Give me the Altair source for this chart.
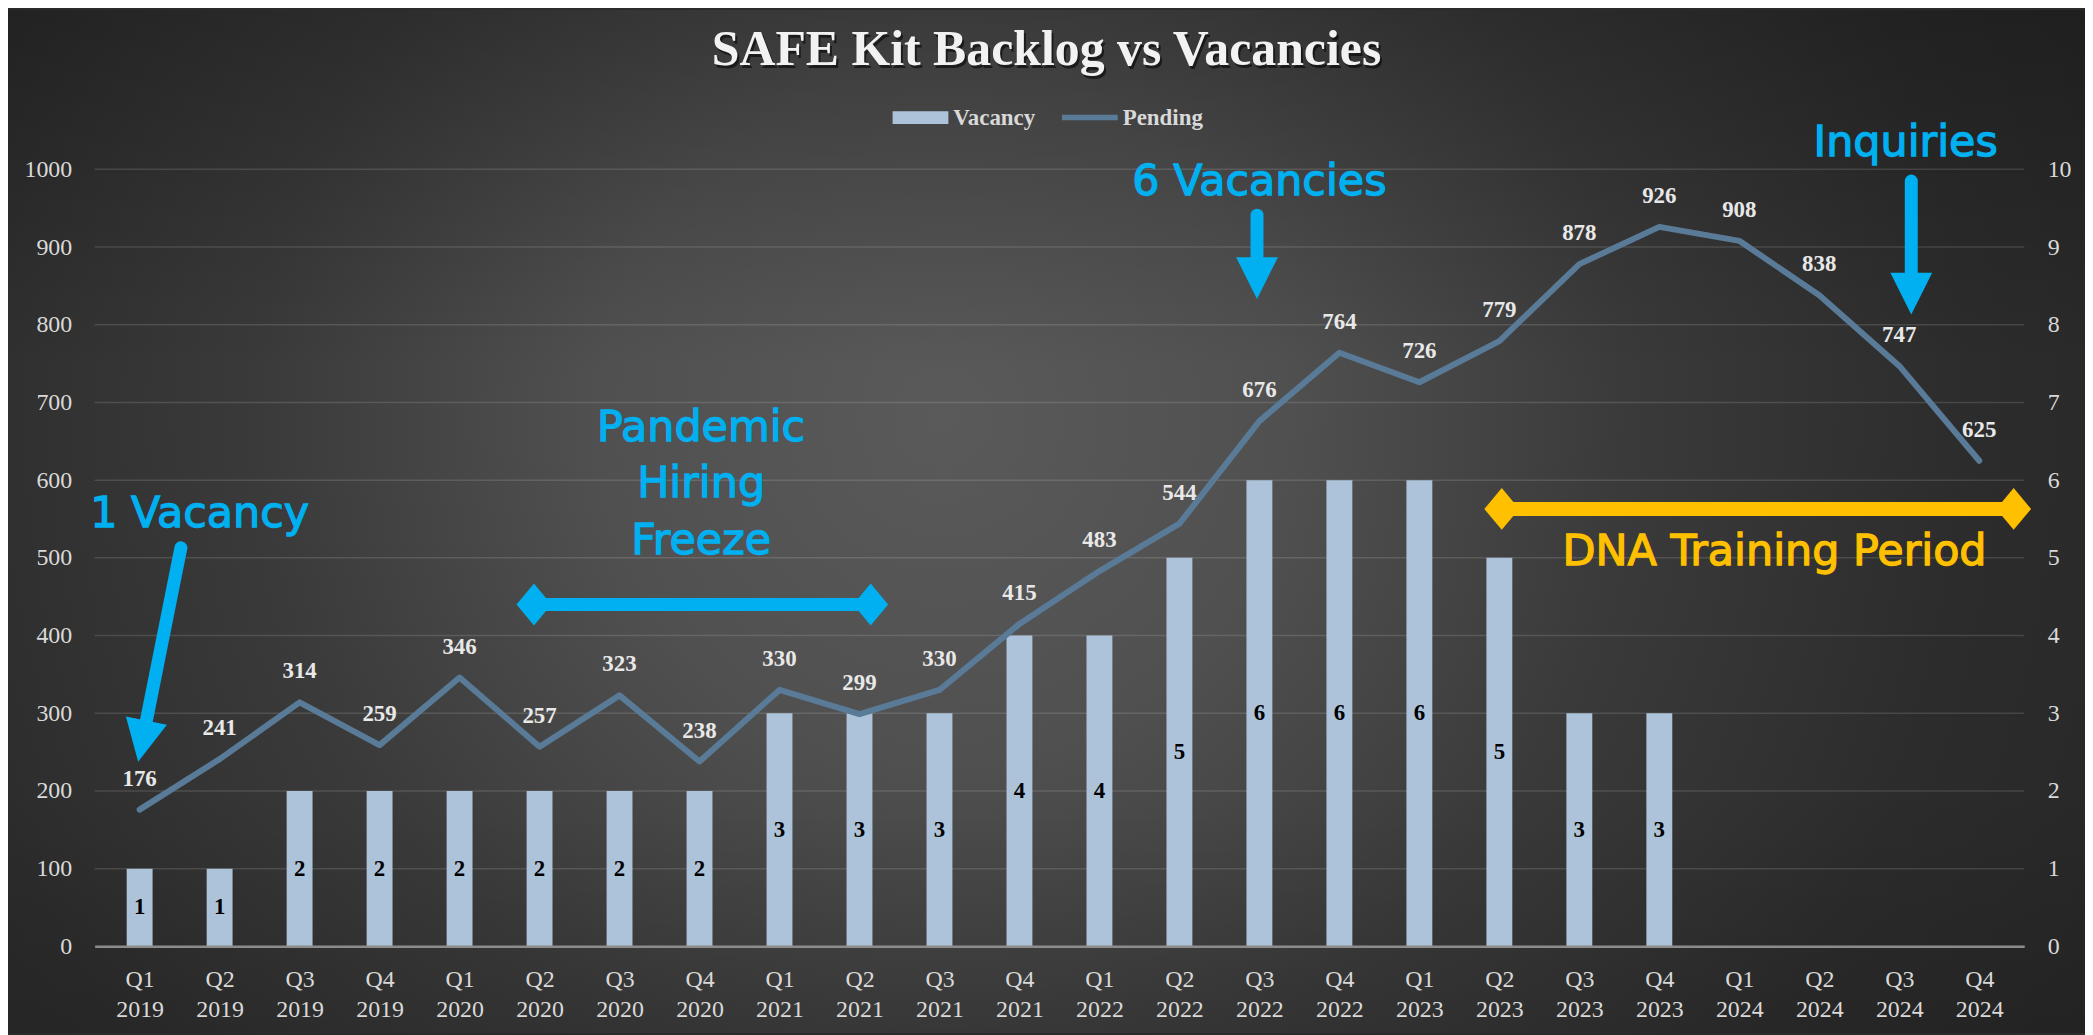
import json
import altair as alt
import pandas as pd

# ---------------- data ----------------
quarters = ["Q1 2019", "Q2 2019", "Q3 2019", "Q4 2019",
            "Q1 2020", "Q2 2020", "Q3 2020", "Q4 2020",
            "Q1 2021", "Q2 2021", "Q3 2021", "Q4 2021",
            "Q1 2022", "Q2 2022", "Q3 2022", "Q4 2022",
            "Q1 2023", "Q2 2023", "Q3 2023", "Q4 2023",
            "Q1 2024", "Q2 2024", "Q3 2024", "Q4 2024"]
pending = [176, 241, 314, 259, 346, 257, 323, 238, 330, 299, 330, 415,
           483, 544, 676, 764, 726, 779, 878, 926, 908, 838, 747, 625]
vacancy = [1, 1, 2, 2, 2, 2, 2, 2, 3, 3, 3, 4,
           4, 5, 6, 6, 6, 5, 3, 3, None, None, None, None]
left_ticks = [0, 100, 200, 300, 400, 500, 600, 700, 800, 900, 1000]
right_ticks = [0, 1, 2, 3, 4, 5, 6, 7, 8, 9, 10]
series_names = ["Vacancy", "Pending"]
title_text = "SAFE Kit Backlog vs Vacancies"

# annotations (anchored in quarter-index / pending units)
cyan_text = ["1 Vacancy", "Pandemic\nHiring\nFreeze", "6 Vacancies", "Inquiries"]
cyan_text_x = [0.75, 7.02, 14.0, 22.08]
cyan_text_y = [540, 651, 967, 1017]
gold_text = ["DNA Training Period"]
gold_text_x = [20.44]
gold_text_y = [491]

arrow_x1 = [0.516, 13.97, 22.15]
arrow_y1 = [513, 941, 985]
arrow_x2 = [0.033, 13.97, 22.15]
arrow_y2 = [264, 860, 840]
arrow_angle = [11.4, 0, 0]

span_cyan_x = [4.93]
span_cyan_x2 = [9.14]
span_cyan_y = [440]
span_gold_x = [17.03]
span_gold_x2 = [23.43]
span_gold_y = [563]

# ---------------- styles ----------------
W, H = 1937, 780
PAD = {"left": 87, "top": 160, "right": 61, "bottom": 87}
SERIF = "Liberation Serif"
SANS = "DejaVu Sans"
LABEL = "#d9d9d9"
BAR = "#adc3d9"
LINE = "#5a7b98"
CYAN = "#00b0f0"
GOLD = "#ffc000"

df = pd.DataFrame({"i": list(range(len(quarters))), "quarter": quarters,
                   "pending": pending, "vacancy": vacancy})
bars_df = df.dropna(subset=["vacancy"]).copy()
bars_df["vacancy"] = bars_df["vacancy"].astype(int)

x_scale = alt.Scale(domain=[-0.5, len(quarters) - 0.5], nice=False, zero=False)
left_scale = alt.Scale(domain=[0, 1000], nice=False)
right_scale = alt.Scale(domain=[0, 10], nice=False)

label_expr = "split(" + json.dumps(quarters) + "[datum.value], ' ')"
x_axis = alt.Axis(values=list(range(len(quarters))), labelExpr=label_expr, title=None,
                  labelFont=SERIF, labelFontSize=24, labelColor=LABEL, labelLineHeight=30,
                  labelPadding=21, labelAngle=0, ticks=False, tickSize=0, grid=False,
                  domain=True, domainColor="#8c8c8c", domainWidth=2.5,
                  labelFlush=False, labelOverlap=False, zindex=1)
left_axis = alt.Axis(orient="left", values=left_ticks, format="d", title=None, grid=False,
                     domain=False, ticks=False, tickSize=0, labelPadding=23, labelFont=SERIF,
                     labelFontSize=24, labelColor=LABEL, labelFlush=False,
                     labelOverlap=False, zindex=1)
right_axis = alt.Axis(orient="right", values=right_ticks, format="d", title=None, grid=False,
                      domain=False, ticks=False, tickSize=0, labelPadding=23, labelFont=SERIF,
                      labelFontSize=24, labelColor=LABEL, labelFlush=False,
                      labelOverlap=False, zindex=1)

X = lambda f: alt.X(f, type="quantitative", scale=x_scale, axis=x_axis)
YL = lambda f: alt.Y(f, type="quantitative", scale=left_scale, axis=left_axis)
YR = lambda f: alt.Y(f, type="quantitative", scale=right_scale, axis=right_axis)

one = pd.DataFrame({"k": [0]})
full = dict(x=alt.value(-PAD["left"]), x2=alt.value(W + PAD["right"]),
            y=alt.value(-PAD["top"]), y2=alt.value(H + PAD["bottom"]))

# background: radial glow plus a soft vertical darkening
bg = alt.Chart(one).mark_rect(
    fill={"gradient": "radial", "x1": 0.45, "y1": 0.45, "r1": 0,
          "x2": 0.45, "y2": 0.45, "r2": 0.66,
          "stops": [{"offset": 0, "color": "#5a5a5a"},
                    {"offset": 0.25, "color": "#505050"},
                    {"offset": 0.5, "color": "#3a3a3a"},
                    {"offset": 0.75, "color": "#2c2c2c"},
                    {"offset": 1, "color": "#262626"}]},
    strokeWidth=0,
).encode(**full)
bg_shade = alt.Chart(one).mark_rect(
    fill={"gradient": "linear", "x1": 0, "y1": 0, "x2": 0, "y2": 1,
          "stops": [{"offset": 0, "color": "rgba(0,0,0,0.24)"},
                    {"offset": 0.35, "color": "rgba(0,0,0,0)"},
                    {"offset": 0.75, "color": "rgba(0,0,0,0)"},
                    {"offset": 1, "color": "rgba(0,0,0,0.12)"}]},
    strokeWidth=0,
).encode(**full)

grid = alt.Chart(pd.DataFrame({"v": left_ticks[1:]})).mark_rule(
    color="#ffffff", opacity=0.13, strokeWidth=1.5
).encode(y=alt.Y("v:Q", scale=left_scale, axis=None), x=alt.value(0), x2=alt.value(W))

title_df = pd.DataFrame({"t": [title_text]})
title_style = dict(font=SERIF, fontSize=50, fontWeight="bold", align="center",
                   baseline="alphabetic")
title_shadow = alt.Chart(title_df).mark_text(color="#000000", opacity=0.55, dx=2, dy=3,
                                             **title_style).encode(
    x=alt.value(W / 2 - 13), y=alt.value(-105), text="t:N")
title_main = alt.Chart(title_df).mark_text(color="#f2f2f2", **title_style).encode(
    x=alt.value(W / 2 - 13), y=alt.value(-105), text="t:N")

legend = alt.Legend(
    orient="none", direction="horizontal", legendX=801, legendY=-80, title=None,
    labelFont=SERIF, labelFontSize=23, labelFontWeight="bold", labelColor=LABEL,
    symbolSize=3136, symbolStrokeWidth=0, labelOffset=5, columnPadding=26,
    symbolType=alt.ExprRef(expr="datum.value === 'Vacancy' ? 'M-1,-0.23H1V0.23H-1Z' : 'M-1,-0.1H1V0.1H-1Z'"),
)

bars = alt.Chart(bars_df).transform_calculate(series="'Vacancy'").mark_bar(size=26).encode(
    x=X("i"), y=YR("vacancy"),
    color=alt.Color("series:N", scale=alt.Scale(domain=series_names, range=[BAR, LINE]),
                    legend=legend),
)
bar_labels = alt.Chart(bars_df).transform_calculate(mid="datum.vacancy / 2").mark_text(
    font=SERIF, fontSize=23, fontWeight="bold", color="#000000", baseline="middle"
).encode(x=X("i"), y=YR("mid"), text=alt.Text("vacancy:Q", format="d"))

line = alt.Chart(df).mark_line(color=LINE, strokeWidth=6, strokeCap="round",
                               strokeJoin="round").encode(x=X("i"), y=YL("pending"))
line_labels = alt.Chart(df).mark_text(
    font=SERIF, fontSize=23, fontWeight="bold", color="#e8e8e8", baseline="alphabetic", dy=-24
).encode(x=X("i"), y=YL("pending"), text="pending:Q")

cyan_df = pd.DataFrame({"x": cyan_text_x, "y": cyan_text_y, "t": cyan_text})
gold_df = pd.DataFrame({"x": gold_text_x, "y": gold_text_y, "t": gold_text})
text_style = dict(font=SANS, fontSize=43, align="center", baseline="alphabetic",
                  lineBreak="\n", lineHeight=57, strokeWidth=1.3)
cyan_txt = alt.Chart(cyan_df).mark_text(color=CYAN, stroke=CYAN, **text_style).encode(
    x=X("x"), y=YL("y"), text="t:N")
gold_txt = alt.Chart(gold_df).mark_text(color=GOLD, stroke=GOLD, **text_style).encode(
    x=X("x"), y=YL("y"), text="t:N")

arrows_df = pd.DataFrame({"x": arrow_x1, "y": arrow_y1, "x2": arrow_x2, "y2": arrow_y2,
                          "a": arrow_angle})
shafts = alt.Chart(arrows_df).mark_rule(color=CYAN, strokeWidth=13, strokeCap="round").encode(
    x=X("x"), y=YL("y"), x2="x2:Q", y2="y2:Q")
heads = alt.Chart(arrows_df).mark_point(
    shape="M-1,-1L1,-1L0,1Z", filled=True, size=1764, color=CYAN, opacity=1, strokeWidth=0
).encode(x=X("x2"), y=YL("y2"), angle=alt.Angle("a:Q", scale=None))

DIAMOND = "M0,-1.2L1,0L0,1.2L-1,0Z"


def span(xs, x2s, ys, color, width):
    d = pd.DataFrame({"x": xs, "x2": x2s, "y": ys})
    bar = alt.Chart(d).mark_rule(color=color, strokeWidth=width).encode(
        x=X("x"), x2="x2:Q", y=YL("y"))
    ends = alt.Chart(d).transform_fold(["x", "x2"], as_=["end", "pos"]).mark_point(
        shape=DIAMOND, filled=True, size=1225, color=color, opacity=1, strokeWidth=0
    ).encode(x=X("pos"), y=YL("y"))
    return [bar, ends]


left_group = alt.layer(
    line, line_labels, cyan_txt, gold_txt, shafts, heads,
    *span(span_cyan_x, span_cyan_x2, span_cyan_y, CYAN, 13),
    *span(span_gold_x, span_gold_x2, span_gold_y, GOLD, 14),
)
right_group = alt.layer(bars, bar_labels)

chart = alt.layer(bg, bg_shade, grid, title_shadow, title_main, right_group, left_group
).resolve_scale(y="independent").properties(
    width=W, height=H,
    autosize=alt.AutoSizeParams(type="none"),
    padding=PAD,
).configure_view(stroke=None).configure(background="#2b2b2b")

chart.save("out.html", embed_options={"renderer": "svg", "actions": False})
